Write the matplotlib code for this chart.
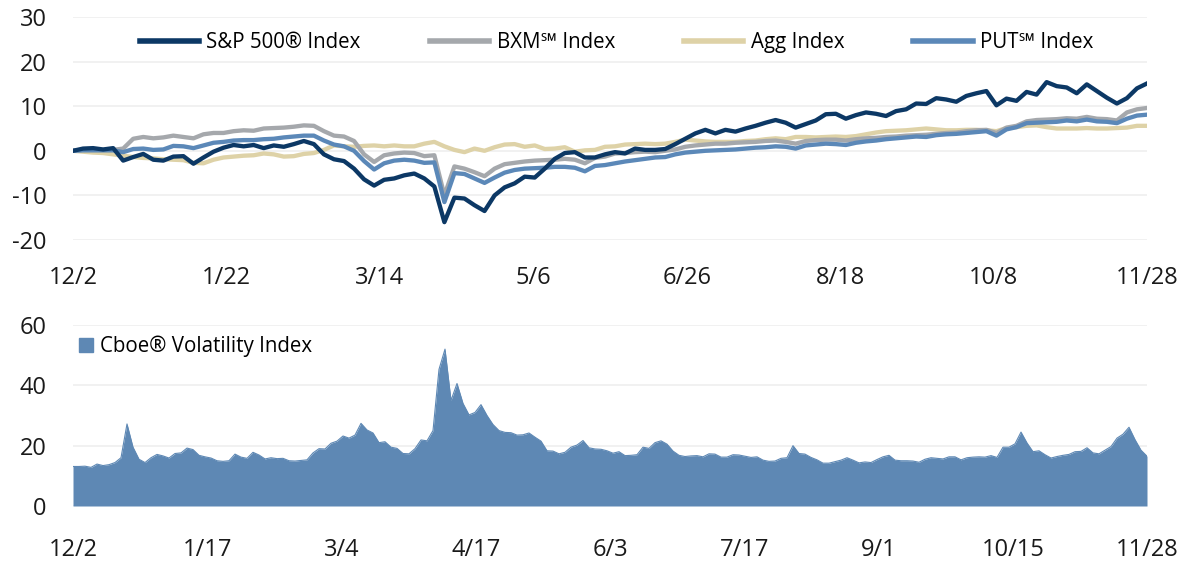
import numpy as np
import matplotlib
matplotlib.use("Agg")
import matplotlib.pyplot as plt
from matplotlib.patches import Patch
from matplotlib.lines import Line2D

plt.rcParams['font.family'] = ['Open Sans', 'DejaVu Sans']

# ---------------- data ----------------
top_ticks = ["12/2", "1/22", "3/14", "5/6", "6/26", "8/18", "10/8", "11/28"]
bottom_ticks = ["12/2", "1/17", "3/4", "4/17", "6/3", "7/17", "9/1", "10/15", "11/28"]

sp500 = [0, 0.5, 0.6, 0.3, 0.6, -2.2, -1.4, -0.7, -2.0, -2.2,
         -1.3, -1.2, -2.9, -1.5, -0.2, 0.7, 1.3, 1.0, 1.3, 0.6,
         1.2, 0.9, 1.5, 2.2, 1.5, -0.8, -1.9, -2.3, -4.0, -6.4,
         -7.8, -6.5, -6.2, -5.5, -5.1, -6.2, -8.0, -16.0, -10.5, -10.7,
         -12.2, -13.5, -10.0, -8.2, -7.3, -5.8, -6.0, -4.0, -1.8, -0.5,
         -0.3, -1.5, -1.5, -0.8, -0.3, -0.6, 0.5, 0.2, 0.2, 0.4,
         1.5, 2.7, 3.9, 4.7, 3.9, 4.7, 4.3, 5.0, 5.6, 6.3,
         6.9, 6.3, 5.2, 6.0, 6.8, 8.2, 8.3, 7.2, 8.0, 8.6,
         8.3, 7.8, 8.9, 9.3, 10.6, 10.5, 11.8, 11.5, 11.0, 12.3,
         12.9, 13.4, 10.2, 11.7, 11.2, 13.2, 12.6, 15.4, 14.5, 14.2,
         12.9, 14.9, 13.4, 11.9, 10.6, 11.8, 14.0, 15.1]

bxm = [0, 0.2, 0.2, 0.2, 0.2, 0.5, 2.7, 3.1, 2.8, 3.0,
       3.4, 3.1, 2.8, 3.7, 4.0, 4.0, 4.4, 4.6, 4.5, 5.0,
       5.1, 5.2, 5.4, 5.7, 5.6, 4.4, 3.4, 3.2, 2.2, -0.8,
       -2.5, -1.0, -0.6, -0.4, -0.5, -1.2, -1.0, -10.0, -3.5, -4.0,
       -4.8, -5.7, -4.0, -3.0, -2.7, -2.4, -2.2, -2.1, -2.0, -1.8,
       -2.0, -2.8, -1.6, -1.3, -0.6, -0.5, -0.3, -0.2, -0.3, 0.0,
       0.3, 0.9, 1.2, 1.4, 1.6, 1.6, 1.8, 1.9, 2.0, 2.2,
       2.3, 2.0, 1.6, 2.2, 2.4, 2.5, 2.5, 2.3, 2.6, 2.8,
       2.9, 3.1, 3.2, 3.4, 3.5, 3.6, 3.8, 4.0, 4.1, 4.4,
       4.6, 4.7, 4.0, 5.2, 5.6, 6.6, 6.9, 7.0, 7.1, 7.3,
       7.2, 7.6, 7.2, 7.1, 6.8, 8.6, 9.3, 9.6]

agg = [0, -0.2, -0.4, -0.5, -0.8, -1.1, -1.4, -1.6, -1.7, -1.9,
       -2.0, -2.1, -2.7, -2.8, -2.0, -1.5, -1.3, -1.1, -1.0, -0.6,
       -0.8, -1.3, -1.2, -0.7, -0.5, 0.2, 1.2, 1.0, 0.9, 1.1,
       1.2, 1.0, 1.2, 1.0, 1.0, 1.6, 2.0, 1.0, 0.2, -0.3,
       0.5, 0.0, 0.8, 1.4, 1.5, 0.9, 1.2, 0.4, 0.5, 0.8,
       -0.2, 0.1, 0.2, 0.9, 1.0, 1.4, 1.5, 1.6, 1.5, 1.6,
       2.0, 2.5, 2.3, 2.1, 2.0, 2.0, 2.0, 2.2, 2.3, 2.6,
       2.8, 2.6, 3.1, 3.1, 3.0, 3.1, 3.2, 3.1, 3.3, 3.7,
       4.1, 4.4, 4.5, 4.6, 4.8, 5.0, 4.8, 4.6, 4.6, 4.7,
       4.7, 4.6, 4.4, 5.1, 5.3, 5.6, 5.7, 5.3, 5.0, 5.0,
       5.0, 5.1, 5.0, 5.0, 5.1, 5.2, 5.6, 5.6]

put = [0, 0.1, 0.1, 0.1, 0.1, -0.3, 0.4, 0.5, 0.2, 0.3,
       1.1, 1.0, 0.6, 1.2, 1.8, 2.0, 2.3, 2.4, 2.4, 2.6,
       2.7, 3.0, 3.2, 3.4, 3.4, 2.3, 1.4, 1.0, 0.0, -2.3,
       -4.2, -2.8, -2.2, -2.0, -2.2, -2.7, -2.6, -11.5, -5.0, -5.2,
       -6.2, -7.2, -6.0, -4.9, -4.3, -4.0, -3.9, -3.8, -3.6, -3.6,
       -3.8, -4.6, -3.4, -3.2, -2.8, -2.4, -2.1, -1.8, -1.5, -1.4,
       -0.8, -0.4, -0.2, 0.0, 0.1, 0.2, 0.3, 0.5, 0.7, 0.8,
       1.0, 0.9, 0.5, 1.2, 1.4, 1.6, 1.5, 1.3, 1.8, 2.1,
       2.3, 2.6, 2.8, 3.0, 3.2, 3.1, 3.5, 3.7, 3.8, 4.0,
       4.2, 4.4, 3.4, 4.8, 5.3, 6.2, 6.3, 6.4, 6.5, 6.8,
       6.6, 7.0, 6.6, 6.5, 6.2, 7.2, 7.9, 8.1]

vix = [13.1, 13.1, 13.2, 12.8, 13.9, 13.4, 13.7, 14.4, 16.0, 27.2,
       19.5, 15.5, 14.4, 16.0, 17.1, 16.6, 15.9, 17.4, 17.6, 19.2,
       18.7, 16.8, 16.3, 15.9, 15.0, 14.8, 15.0, 17.2, 16.2, 15.8,
       17.8, 16.9, 15.6, 16.0, 15.7, 15.8, 15.0, 14.9, 15.1, 15.3,
       17.6, 19.0, 18.9, 20.8, 21.5, 23.2, 22.5, 23.5, 27.4, 25.2,
       24.2, 21.0, 21.3, 19.5, 19.1, 17.4, 17.3, 19.0, 21.9, 21.6,
       25.0, 45.3, 52.0, 35.0, 40.6, 34.0, 30.2, 31.0, 33.6, 30.0,
       27.0, 25.0, 24.4, 24.3, 23.5, 23.6, 24.2, 22.8, 21.5, 18.3,
       18.2, 17.3, 17.8, 19.5, 20.2, 21.7, 19.3, 18.9, 18.8, 18.3,
       17.5, 18.0, 16.7, 16.8, 17.0, 19.5, 19.1, 21.0, 21.6, 20.5,
       18.2, 16.8, 16.4, 16.6, 16.7, 16.3, 17.3, 17.2, 16.2, 16.2,
       17.0, 16.9, 16.5, 16.1, 16.3, 15.2, 14.8, 14.9, 15.8, 16.0,
       20.0, 17.4, 17.2, 16.1, 15.3, 14.2, 14.2, 14.7, 15.2, 16.0,
       15.2, 14.3, 14.6, 14.4, 15.4, 16.3, 16.8, 15.2, 15.0, 15.0,
       14.9, 14.5, 15.5, 16.0, 15.8, 15.6, 16.3, 16.3, 15.3, 16.0,
       16.2, 16.3, 16.2, 16.7, 16.1, 19.5, 19.5, 20.6, 24.5, 20.9,
       18.0, 18.3, 17.0, 15.9, 16.4, 16.8, 17.1, 18.0, 18.1, 19.3,
       17.6, 17.3, 18.5, 19.7, 22.5, 23.8, 26.1, 22.0, 18.5, 16.5]

series_names = ["S&P 500® Index", "BXM℠ Index", "Agg Index", "PUT℠ Index"]
vix_name = "Cboe® Volatility Index"

# ---------------- styling ----------------
C_SP = "#0C3865"
C_BXM = "#A5A8AC"
C_AGG = "#DED2A7"
C_PUT = "#5B88B8"
C_VIX = "#5E88B4"
GRID = "#EFEFEF"
W, H = 1200, 576

fig = plt.figure(figsize=(12, 5.76), dpi=100)

def px_axes(x0, x1, ytop, ybot):
    return fig.add_axes([x0 / W, 1 - ybot / H, (x1 - x0) / W, (ybot - ytop) / H])

ax1 = px_axes(73, 1147, 17, 240)
ax2 = px_axes(73, 1147, 325, 506)

def style(ax, pad_x):
    for s in ax.spines.values():
        s.set_visible(False)
    ax.grid(axis='y', color=GRID, lw=1.2)
    ax.set_axisbelow(True)
    ax.tick_params(axis='both', length=0, labelsize=17, colors='#1a1a1a')
    ax.tick_params(axis='y', pad=19)
    ax.tick_params(axis='x', pad=pad_x)

# top panel
xt = np.arange(len(sp500))
lw = 3.1
ax1.plot(xt, agg, color=C_AGG, lw=lw, solid_joinstyle='round', zorder=2)
ax1.plot(xt, bxm, color=C_BXM, lw=lw, solid_joinstyle='round', zorder=3)
ax1.plot(xt, put, color=C_PUT, lw=lw, solid_joinstyle='round', zorder=4)
ax1.plot(xt, sp500, color=C_SP, lw=lw, solid_joinstyle='round', zorder=5)
ax1.set_xlim(0, len(sp500) - 1)
ax1.set_ylim(-20, 30)
ax1.set_yticks([-20, -10, 0, 10, 20, 30])
ax1.set_yticklabels(["-20", "-10", "0", "10", "20", "30"])
ax1.set_xticks(np.linspace(0, len(sp500) - 1, len(top_ticks)))
ax1.set_xticklabels(top_ticks)
style(ax1, 19)

handles = [Line2D([], [], color=c, lw=4) for c in (C_SP, C_BXM, C_AGG, C_PUT)]
ax1.legend(handles, series_names, loc='center', bbox_to_anchor=(0.506, 0.885),
           ncol=4, frameon=False, fontsize=14.8, handlelength=2.9,
           handletextpad=0.35, columnspacing=3.35)

# bottom panel
xv = np.arange(len(vix))
ax2.fill_between(xv, vix, 0, color=C_VIX, lw=0, zorder=2)
ax2.plot(xv, vix, color=C_VIX, lw=0.8, zorder=3)
ax2.set_xlim(0, len(vix) - 1)
ax2.set_ylim(0, 60)
ax2.set_yticks([0, 20, 40, 60])
ax2.set_xticks(np.linspace(0, len(vix) - 1, len(bottom_ticks)))
ax2.set_xticklabels(bottom_ticks)
style(ax2, 23)
ax2.legend([Patch(color=C_VIX)], [vix_name], loc='center left',
           bbox_to_anchor=(-0.012, 0.88), frameon=False, fontsize=14.8,
           handlelength=0.7, handleheight=0.7, handletextpad=0.35)

fig.savefig("out.png", dpi=100)
